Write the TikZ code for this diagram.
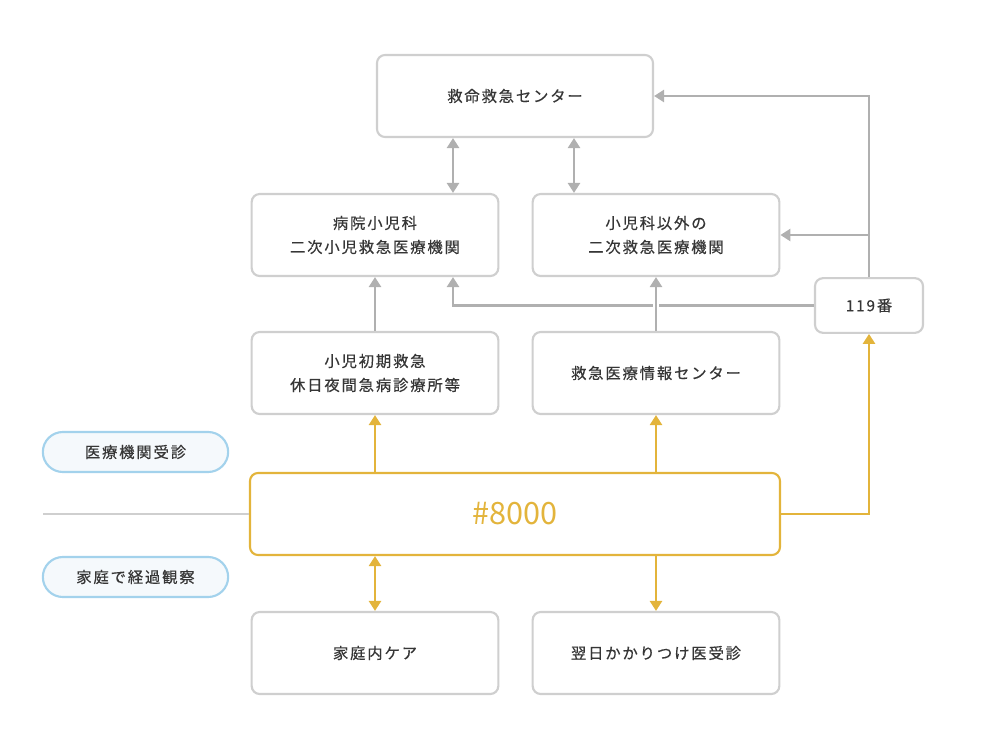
\documentclass[tikz,border=0pt]{standalone}
\usepackage{fontspec}
\usetikzlibrary{arrows.meta,positioning}
\newfontfamily\jpfont[LetterSpace=12,FakeBold=0.5]{Noto Sans CJK JP}
\newfontfamily\numfont{Noto Sans CJK JP}
\definecolor{boxgray}{HTML}{CFCFCF}
\definecolor{linegray}{HTML}{B0B0B0}
\definecolor{gold}{HTML}{E3B43B}
\definecolor{textgray}{HTML}{363636}
\definecolor{pillblue}{HTML}{A3D2EC}
\definecolor{pillfill}{HTML}{F5F9FC}
\tikzset{
  >={Triangle[width=9pt,length=7.5pt]},
  box/.style={draw=boxgray,line width=1.6pt,rounded corners=6pt,fill=white,text=textgray,
    align=center,minimum width=185pt,minimum height=61.5pt,
    font=\jpfont\fontsize{11.5}{18}\selectfont},
  mainbox/.style={box,draw=gold,text=gold,minimum width=397.5pt,
    font=\numfont\fontsize{23}{26}\selectfont},
  pill/.style={draw=pillblue,line width=1.6pt,rounded corners=15pt,fill=pillfill,text=textgray,
    minimum width=139pt,minimum height=30pt,font=\jpfont\fontsize{11.5}{18}\selectfont},
  gline/.style={draw=linegray,line width=2pt},
  yline/.style={draw=gold,line width=2pt}
}
\begin{document}
\begin{tikzpicture}[x=0.75pt,y=-0.75pt]
\useasboundingbox (0,0) rectangle (1000,750);

% upper rows
\node [box,minimum width=207pt] (node1) at (515,96) {救命救急センター};
\node [box] (node2) at (375,235) {病院小児科\\二次小児救急医療機関};
\node [box] (node3) at (656,235) {小児科以外の\\二次救急医療機関};
\node [box,minimum width=81pt,minimum height=41pt] (node4) at (869,305.5) {119番};
\node [box] (node5) at (375,373) {小児初期救急\\休日夜間急病診療所等};
\node [box] (node6) at (656,373) {救急医療情報センター};

% #8000 and below
\node [mainbox] (node7) at (515,514) {\#8000};
\coordinate (node7-1) at (43,514);
\node [box] (node8) at (375,653) {家庭内ケア};
\node [box] (node9) at (656,653) {翌日かかりつけ医受診};

\node [pill] (node10) at (135.5,452) {医療機関受診};
\node [pill] (node11) at (135.5,577) {家庭で経過観察};

\draw[gline,<->]([xshift=58.5pt]node2.north)--([xshift=58.5pt]node2.north |- node1.south);
\draw[gline,<->]([xshift=-61.5pt]node3.north)--([xshift=-61.5pt]node3.north |- node1.south);
\draw[gline,->](node4.north)|-(node1.east);
\draw[gline,->](node4.north |- node3.east)--(node3.east);
\draw[gline,->](node4.west)-|([xshift=58.5pt]node2.south);
\draw[gline,->](node5.north)--(node2.south);
\draw[gline,->,preaction={draw=white,line width=5pt,-,shorten <=2pt,shorten >=10pt}](node6.north)--(node3.south);

\draw[draw=boxgray,line width=1.6pt](node7-1)--(node7.west);
\draw[yline,->](node7.north -| node5.south)--(node5.south);
\draw[yline,->](node7.north -| node6.south)--(node6.south);
\draw[yline,->](node7.east)-|(node4.south);
\draw[yline,<->](node7.south -| node8.north)--(node8.north);
\draw[yline,->](node7.south -| node9.north)--(node9.north);

\end{tikzpicture}
\end{document}
